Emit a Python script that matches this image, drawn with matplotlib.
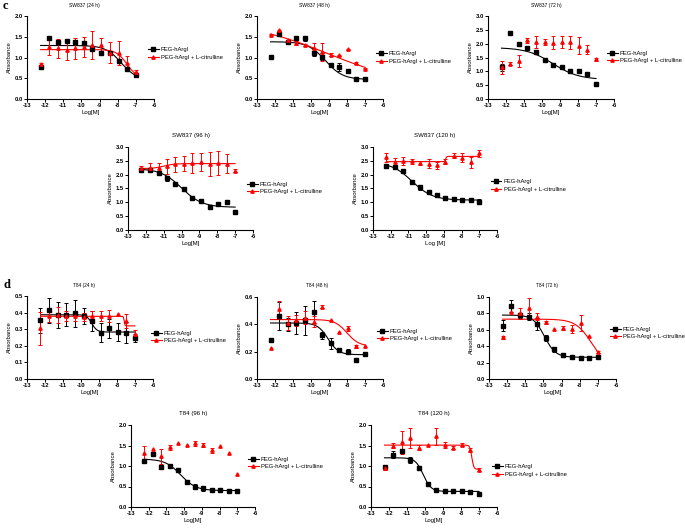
import numpy as np
import matplotlib
matplotlib.use('Agg')
import matplotlib.pyplot as plt
from matplotlib.lines import Line2D

plt.rcParams['font.family'] = ['Liberation Sans', 'DejaVu Sans']

# ---------------- data ----------------
log_conc = [-12.25, -11.77, -11.29, -10.82, -10.34, -9.86, -9.39, -8.91, -8.43, -7.95, -7.48, -7.00]
series_labels = ['PEG-hArgI', 'PEG-hArgI + L-citrulline']

titles = ['SW837 (24 h)', 'SW837 (48 h)', 'SW837 (72 h)', 'SW837 (96 h)', 'SW837 (120 h)',
          'T84 (24 h)', 'T84 (48 h)', 'T84 (72 h)', 'T84 (96 h)', 'T84 (120 h)']
xlabels = ['Log[M]', 'Log[M]', 'Log[M]', 'Log[M]', 'Log [M]',
           'Log[M]', 'Log[M]', 'Log[M]', 'Log[M]', 'Log[M]']
y_max = [2.0, 2.0, 3.0, 3.0, 3.0, 0.5, 0.6, 1.0, 2.0, 2.0]
y_step = [0.5, 0.5, 0.5, 0.5, 0.5, 0.1, 0.2, 0.2, 0.5, 0.5]
x_ticks = [-13, -12, -11, -10, -9, -8, -7, -6]

# SW837 24 h
sw24_peg = [0.78, 1.46, 1.37, 1.40, 1.37, 1.34, 1.20, 1.12, 1.10, 0.92, 0.72, 0.57]
sw24_peg_err = [0.03, 0.02, 0.04, 0.02, 0.05, 0.03, 0.05, 0.04, 0.03, 0.02, 0.02, 0.02]
sw24_cit = [0.84, 1.26, 1.22, 1.18, 1.22, 1.26, 1.30, 1.30, 1.12, 1.11, 0.87, 0.65]
sw24_cit_err = [0.03, 0.21, 0.23, 0.24, 0.26, 0.24, 0.34, 0.18, 0.25, 0.28, 0.16, 0.05]
sw24_peg_fit = [1.29, 0.45, -7.8, 1.0]      # top, bottom, logEC50, hill
sw24_cit_fit = [1.19, 0.50, -7.5, 1.5]

# SW837 48 h
sw48_peg = [1.01, 1.57, 1.38, 1.47, 1.46, 1.12, 1.02, 0.82, 0.77, 0.68, 0.48, 0.49]
sw48_peg_err = [0, 0.02, 0.05, 0.02, 0.06, 0.09, 0.09, 0.05, 0.09, 0.01, 0.01, 0.01]
sw48_cit = [1.55, 1.66, 1.41, 1.35, 1.30, 1.24, 1.13, 1.07, 1.05, 1.20, 0.87, 0.73]
sw48_cit_err = [0.01, 0.01, 0.02, 0.04, 0.02, 0.10, 0.22, 0.03, 0.01, 0.01, 0.03, 0.01]
sw48_peg_fit = [1.38, 0.47, -9.2, 0.9]
sw48_cit_fit = [1.85, 0.35, -9.1, 0.2]

# SW837 72 h
sw72_peg = [1.15, 2.38, 1.99, 1.86, 1.69, 1.40, 1.22, 1.15, 1.03, 1.00, 0.92, 0.53]
sw72_peg_err = [0.12, 0, 0, 0, 0, 0.03, 0, 0, 0, 0, 0, 0]
sw72_cit = [1.15, 1.27, 1.37, 2.12, 2.07, 2.06, 2.04, 2.05, 2.05, 1.93, 1.78, 1.43]
sw72_cit_err = [0.23, 0.05, 0.22, 0.10, 0.21, 0.11, 0.23, 0.21, 0.23, 0.30, 0.17, 0.07]
sw72_peg_fit = [1.86, 0.70, -9.4, 0.6]
sw72_cit_fit = None

# SW837 96 h
sw96_peg = [2.18, 2.18, 2.07, 1.87, 1.68, 1.48, 1.16, 1.05, 0.82, 0.95, 1.00, 0.66]
sw96_peg_err = [0.07, 0.05, 0.05, 0.09, 0.05, 0.02, 0.02, 0.02, 0.02, 0.02, 0.04, 0.02]
sw96_cit = [2.24, 2.25, 2.23, 2.30, 2.37, 2.40, 2.42, 2.45, 2.38, 2.42, 2.40, 2.15]
sw96_cit_err = [0.09, 0.17, 0.18, 0.28, 0.28, 0.28, 0.37, 0.33, 0.43, 0.43, 0.35, 0.07]
sw96_peg_fit = [2.22, 0.82, -10.0, 0.75]
sw96_cit_fit = [2.22, 2.40, -11.0, 1.5]

# SW837 120 h
sw120_peg = [2.30, 2.26, 2.12, 1.72, 1.55, 1.38, 1.28, 1.17, 1.12, 1.09, 1.07, 1.03]
sw120_peg_err = [0.02, 0.02, 0.06, 0.05, 0.09, 0.02, 0.04, 0.01, 0.02, 0.01, 0.01, 0.10]
sw120_cit = [2.63, 2.45, 2.50, 2.48, 2.43, 2.40, 2.34, 2.47, 2.68, 2.62, 2.45, 2.77]
sw120_cit_err = [0.17, 0.14, 0.15, 0.08, 0.08, 0.15, 0.13, 0.08, 0.09, 0.16, 0.20, 0.13]
sw120_peg_fit = [2.45, 1.08, -10.8, 0.75]
sw120_cit_fit = [2.47, 2.66, -8.9, 15.0]

# T84 24 h
t24_peg = [0.355, 0.415, 0.385, 0.387, 0.395, 0.38, 0.35, 0.278, 0.305, 0.283, 0.28, 0.245]
t24_peg_err = [0.075, 0.075, 0.078, 0.068, 0.08, 0.05, 0.06, 0.057, 0.055, 0.055, 0.065, 0.025]
t24_cit = [0.305, 0.38, 0.385, 0.38, 0.38, 0.375, 0.38, 0.38, 0.38, 0.39, 0.35, 0.27]
t24_cit_err = [0.10, 0.035, 0.05, 0.03, 0.03, 0.025, 0.03, 0.03, 0.035, 0, 0.04, 0.027]
t24_peg_fit = [0.387, 0.283, -9.4, 3.0]
t24_cit_fit = [0.378, 0.32, -7.6, 20.0]

# T84 48 h
t48_peg = [0.285, 0.46, 0.40, 0.41, 0.43, 0.49, 0.32, 0.26, 0.21, 0.20, 0.14, 0.18]
t48_peg_err = [0.015, 0.105, 0.05, 0.08, 0.105, 0.08, 0.025, 0.04, 0.01, 0.02, 0, 0]
t48_cit = [0.225, 0.51, 0.41, 0.43, 0.45, 0.42, 0.53, 0.43, 0.345, 0.37, 0.24, 0.245]
t48_cit_err = [0, 0.06, 0.05, 0.04, 0.05, 0.04, 0.01, 0, 0, 0.02, 0.01, 0]
t48_peg_fit = [0.41, 0.178, -9.05, 1.5]
t48_cit_fit = [0.435, 0.24, -8.0, 1.3]

# T84 72 h
t72_peg = [0.65, 0.89, 0.78, 0.76, 0.67, 0.50, 0.36, 0.29, 0.27, 0.26, 0.26, 0.27]
t72_peg_err = [0.07, 0.07, 0.03, 0.04, 0.07, 0.035, 0.025, 0.025, 0.01, 0.02, 0.02, 0.025]
t72_cit = [0.51, 0.82, 0.80, 0.86, 0.76, 0.69, 0.61, 0.62, 0.61, 0.68, 0.53, 0.33]
t72_cit_err = [0.02, 0, 0.07, 0.13, 0.04, 0.02, 0, 0.025, 0.05, 0.10, 0, 0.015]
t72_peg_fit = [0.78, 0.265, -9.95, 1.4]
t72_cit_fit = [0.73, 0.15, -7.35, 1.0]

# T84 96 h
t96_peg = [1.12, 1.30, 0.97, 1.00, 0.90, 0.60, 0.50, 0.46, 0.42, 0.41, 0.40, 0.39]
t96_peg_err = [0.03, 0.03, 0.03, 0.05, 0.03, 0.05, 0.06, 0.06, 0.04, 0.01, 0.01, 0.01]
t96_cit = [1.32, 1.42, 1.24, 1.46, 1.55, 1.52, 1.55, 1.52, 1.38, 1.50, 1.32, 0.80]
t96_cit_err = [0.17, 0, 0.18, 0.06, 0, 0, 0.07, 0.05, 0.06, 0, 0, 0]
t96_peg_fit = [1.17, 0.40, -10.2, 1.0]
t96_cit_fit = None

# T84 120 h
t120_peg = [0.97, 1.28, 1.36, 1.15, 0.95, 0.55, 0.41, 0.40, 0.40, 0.40, 0.37, 0.32]
t120_peg_err = [0.04, 0.09, 0.04, 0.08, 0.05, 0.03, 0.02, 0.01, 0.01, 0.01, 0.035, 0.01]
t120_cit = [0.95, 1.50, 1.58, 1.68, 1.45, 1.52, 1.72, 1.52, 1.45, 1.52, 1.39, 0.91]
t120_cit_err = [0.04, 0.07, 0.28, 0.24, 0.07, 0, 0.21, 0.07, 0.03, 0.04, 0.04, 0.03]
t120_peg_fit = [1.20, 0.38, -10.1, 2.0]
t120_cit_fit = [1.51, 0.92, -7.4, 8.0]

panels = [
    (sw24_peg, sw24_peg_err, sw24_cit, sw24_cit_err, sw24_peg_fit, sw24_cit_fit),
    (sw48_peg, sw48_peg_err, sw48_cit, sw48_cit_err, sw48_peg_fit, sw48_cit_fit),
    (sw72_peg, sw72_peg_err, sw72_cit, sw72_cit_err, sw72_peg_fit, sw72_cit_fit),
    (sw96_peg, sw96_peg_err, sw96_cit, sw96_cit_err, sw96_peg_fit, sw96_cit_fit),
    (sw120_peg, sw120_peg_err, sw120_cit, sw120_cit_err, sw120_peg_fit, sw120_cit_fit),
    (t24_peg, t24_peg_err, t24_cit, t24_cit_err, t24_peg_fit, t24_cit_fit),
    (t48_peg, t48_peg_err, t48_cit, t48_cit_err, t48_peg_fit, t48_cit_fit),
    (t72_peg, t72_peg_err, t72_cit, t72_cit_err, t72_peg_fit, t72_cit_fit),
    (t96_peg, t96_peg_err, t96_cit, t96_cit_err, t96_peg_fit, t96_cit_fit),
    (t120_peg, t120_peg_err, t120_cit, t120_cit_err, t120_peg_fit, t120_cit_fit),
]

# ---------------- layout (pixels) ----------------
W, H = 685, 528
# x_left, x_right, y_top, y_bottom of each plot area
boxes = [(27, 154, 16, 99), (257, 383, 16, 99), (488, 614, 16, 99),
         (128, 253, 147, 230), (373, 497, 147, 230),
         (27, 153, 296, 379), (257, 383, 297, 379), (489, 616, 297, 379),
         (131, 255, 425, 507), (371, 497, 425, 507)]
legend_anchor = [(148, 53.5), (376, 57.5), (607, 57), (247, 188), (491, 185.5),
                 (151, 337), (377, 335), (610, 333), (248, 463), (492, 470.5)]
title_y = [5, 5, 5, 136, 136, 285, 285, 285, 413, 413]
title_xf = [0.455, 0.455, 0.46, 0.5, 0.5, 0.455, 0.48, 0.46, 0.5, 0.5]
title_fs = [3.6, 3.6, 3.6, 4.4, 4.4, 3.4, 3.4, 3.4, 4.4, 4.4]

RED = '#ff0000'
BLACK = '#000000'


def four_pl(x, p):
    top, bottom, c, h = p
    return bottom + (top - bottom) / (1.0 + 10.0 ** ((x - c) * h))


fig = plt.figure(figsize=(W / 100, H / 100), dpi=100)
fig.patch.set_facecolor('white')

xs = np.array(log_conc)
xcurve = np.linspace(min(log_conc), max(log_conc), 400)

for i, (peg, peg_err, cit, cit_err, peg_fit, cit_fit) in enumerate(panels):
    x0, x1, yt, yb = boxes[i]
    ax = fig.add_axes([x0 / W, 1 - yb / H, (x1 - x0) / W, (yb - yt) / H])
    for vals, errs, fit, col, mk, ms in [(peg, peg_err, peg_fit, BLACK, 's', 2.3),
                                          (cit, cit_err, cit_fit, RED, '^', 2.4)]:
        v = np.array(vals)
        e = np.array(errs)
        m = e > 0
        ax.errorbar(xs[m], v[m], yerr=e[m], fmt='none', ecolor=col, elinewidth=0.7,
                    capsize=1.4, capthick=0.7, clip_on=False, zorder=3)
        ax.plot(xs, v, ls='none', marker=mk, ms=ms, color=col, mec=col, clip_on=False, zorder=4)
        if fit is not None:
            ax.plot(xcurve, four_pl(xcurve, fit), color=col, lw=0.8, zorder=2)
    ax.set_xlim(-13, -6)
    ax.set_ylim(0, y_max[i])
    ax.set_xticks(x_ticks)
    ax.set_xticklabels([str(t) for t in x_ticks])
    yt_vals = np.round(np.arange(0, y_max[i] + 1e-9, y_step[i]), 2)
    ax.set_yticks(yt_vals)
    ax.set_yticklabels(['%.1f' % t for t in yt_vals])
    for s in ['top', 'right']:
        ax.spines[s].set_visible(False)
    for s in ['left', 'bottom']:
        ax.spines[s].set_linewidth(0.8)
    ax.tick_params(direction='out', length=2, width=0.7, pad=1, labelsize=4.2)
    for lab in ax.get_xticklabels() + ax.get_yticklabels():
        lab.set_fontweight('bold')
    ax.set_xlabel(xlabels[i], fontsize=4.3, labelpad=1.5)
    ax.set_ylabel('Absorbance', fontsize=4.3, labelpad=2)
    ax.patch.set_alpha(0)

    # title
    fig.text((x0 + title_xf[i] * (x1 - x0)) / W, 1 - title_y[i] / H, titles[i],
             fontsize=title_fs[i], ha='center', va='center')

    # legend
    handles = [Line2D([0], [0], color=BLACK, lw=0.8, marker='s', ms=2.3),
               Line2D([0], [0], color=RED, lw=0.8, marker='^', ms=2.4)]
    lx, ly = legend_anchor[i]
    ax.legend(handles, series_labels, loc='center left',
              bbox_to_anchor=(lx / W, 1 - ly / H), bbox_transform=fig.transFigure,
              frameon=False, fontsize=4.2, handlelength=1.8, handletextpad=0.4,
              labelspacing=0.45, borderpad=0, borderaxespad=0)

# panel letters
fig.text(3 / W, 1 - 6 / H, 'c', fontsize=9, fontweight='bold', family='Liberation Serif',
         ha='left', va='center')
fig.text(3 / W, 1 - 285 / H, 'd', fontsize=9, fontweight='bold', family='Liberation Serif',
         ha='left', va='center')

fig.savefig('out.png', dpi=100, facecolor='white')
